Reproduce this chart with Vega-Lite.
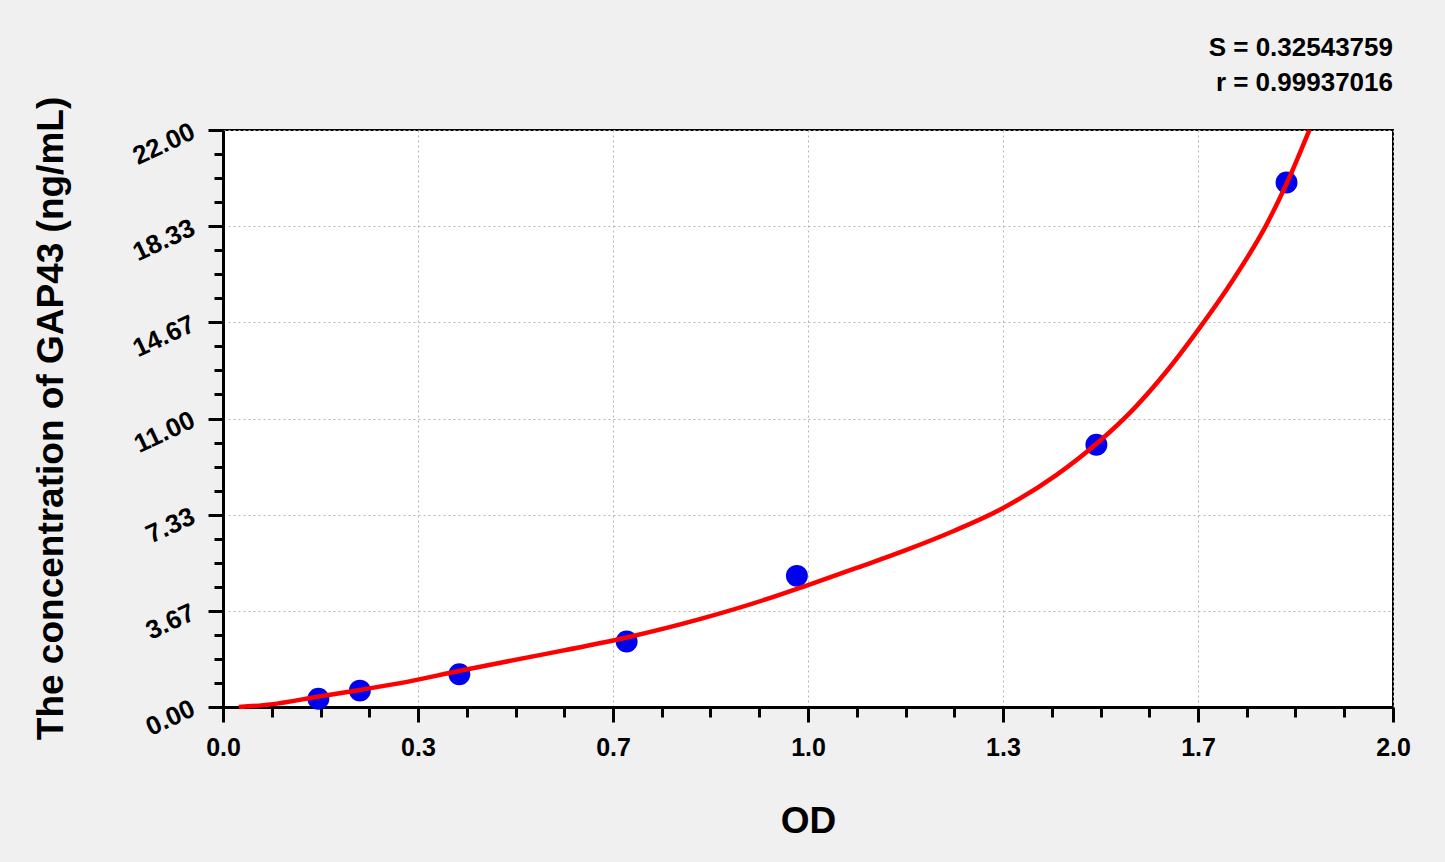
{
  "$schema": "https://vega.github.io/schema/vega-lite/v6.json",
  "width": 1170,
  "height": 577,
  "autosize": {"type": "none"},
  "padding": {"left": 223, "top": 130, "right": 52, "bottom": 155},
  "background": "#f0f0f0",
  "title": {
    "text": "S = 0.32543759",
    "subtitle": "r = 0.99937016",
    "anchor": "end",
    "frame": "group",
    "font": "Liberation Sans",
    "fontSize": 26,
    "fontWeight": "bold",
    "color": "black",
    "subtitleFont": "Liberation Sans",
    "subtitleFontSize": 26,
    "subtitleFontWeight": "bold",
    "subtitleColor": "black",
    "subtitlePadding": 9,
    "offset": 0
  },
  "datasets": {
    "standards": [
      {"od": 0.163, "conc": 0.312},
      {"od": 0.234, "conc": 0.625},
      {"od": 0.404, "conc": 1.25},
      {"od": 0.690, "conc": 2.5},
      {"od": 0.981, "conc": 5},
      {"od": 1.493, "conc": 10},
      {"od": 1.818, "conc": 20}
    ],
    "fit": [
      {"od": 0.027, "conc": 0.0},
      {"od": 0.082, "conc": 0.10},
      {"od": 0.164, "conc": 0.40},
      {"od": 0.234, "conc": 0.65},
      {"od": 0.303, "conc": 0.91},
      {"od": 0.405, "conc": 1.38},
      {"od": 0.530, "conc": 1.93},
      {"od": 0.690, "conc": 2.65},
      {"od": 0.815, "conc": 3.35},
      {"od": 0.929, "conc": 4.11},
      {"od": 1.000, "conc": 4.65},
      {"od": 1.083, "conc": 5.30},
      {"od": 1.166, "conc": 5.97},
      {"od": 1.250, "conc": 6.72},
      {"od": 1.333, "conc": 7.58},
      {"od": 1.425, "conc": 8.85},
      {"od": 1.499, "conc": 10.15},
      {"od": 1.556, "conc": 11.35},
      {"od": 1.613, "conc": 12.80},
      {"od": 1.666, "conc": 14.35},
      {"od": 1.727, "conc": 16.30},
      {"od": 1.784, "conc": 18.40},
      {"od": 1.818, "conc": 19.95},
      {"od": 1.857, "conc": 22.0}
    ]
  },
  "layer": [
    {
      "data": {"name": "standards"},
      "mark": {"type": "point", "filled": true, "opacity": 1, "size": 480, "color": "#0000f0"},
      "encoding": {
        "x": {
          "field": "od", "type": "quantitative",
          "scale": {"domain": [0, 2], "nice": false, "zero": false},
          "axis": {
            "title": "OD",
            "values": [0, 0.33333, 0.66667, 1, 1.33333, 1.66667, 2],
            "format": ".1f",
            "grid": true,
            "titleFontSize": 37,
            "titleX": 585,
            "titleY": 125,
            "titleBaseline": "alphabetic",
            "labelBaseline": "alphabetic",
            "labelPadding": 33,
            "labelFontSize": 25
          }
        },
        "y": {
          "field": "conc", "type": "quantitative",
          "scale": {"domain": [0, 22], "nice": false, "zero": false},
          "axis": {
            "title": "The concentration of GAP43 (ng/mL)",
            "values": [0, 3.66667, 7.33333, 11, 14.66667, 18.33333, 22],
            "format": ".2f",
            "grid": true,
            "titleFontSize": 37,
            "titleAngle": -90,
            "titleX": -161,
            "titleY": 288,
            "titleAlign": "center",
            "titleBaseline": "alphabetic",
            "labelAngle": -25,
            "labelAlign": "right",
            "labelBaseline": "middle",
            "labelPadding": 15,
            "labelFontSize": 26
          }
        }
      }
    },
    {
      "data": {"name": "fit"},
      "mark": {"type": "line", "color": "#ff0000", "strokeWidth": 4.5, "interpolate": "monotone"},
      "encoding": {
        "x": {
          "field": "od", "type": "quantitative",
          "axis": {
            "orient": "bottom",
            "title": null,
            "values": [0.08333, 0.16667, 0.25, 0.41667, 0.5, 0.58333, 0.75, 0.83333, 0.91667, 1.08333, 1.16667, 1.25, 1.41667, 1.5, 1.58333, 1.75, 1.83333, 1.91667],
            "labels": false,
            "grid": false,
            "domain": false,
            "tickSize": 10
          }
        },
        "y": {
          "field": "conc", "type": "quantitative",
          "axis": {
            "orient": "left",
            "title": null,
            "values": [0.91667, 1.83333, 2.75, 4.58333, 5.5, 6.41667, 8.25, 9.16667, 10.08333, 11.91667, 12.83333, 13.75, 15.58333, 16.5, 17.41667, 19.25, 20.16667, 21.08333],
            "labels": false,
            "grid": false,
            "domain": false,
            "tickSize": 9
          }
        }
      }
    }
  ],
  "resolve": {"axis": {"x": "independent", "y": "independent"}},
  "config": {
    "view": {"fill": "white", "stroke": "black", "strokeWidth": 2},
    "font": "Liberation Sans",
    "axis": {
      "domainColor": "black",
      "domainWidth": 3,
      "tickColor": "black",
      "tickWidth": 3,
      "tickSize": 15,
      "labelColor": "black",
      "labelFont": "Liberation Sans",
      "labelFontWeight": "bold",
      "labelOverlap": false,
      "labelFlush": false,
      "titleColor": "black",
      "titleFont": "Liberation Sans",
      "titleFontWeight": "bold",
      "gridColor": "#b4b4b4",
      "gridDash": [2, 3],
      "gridWidth": 1
    }
  }
}
